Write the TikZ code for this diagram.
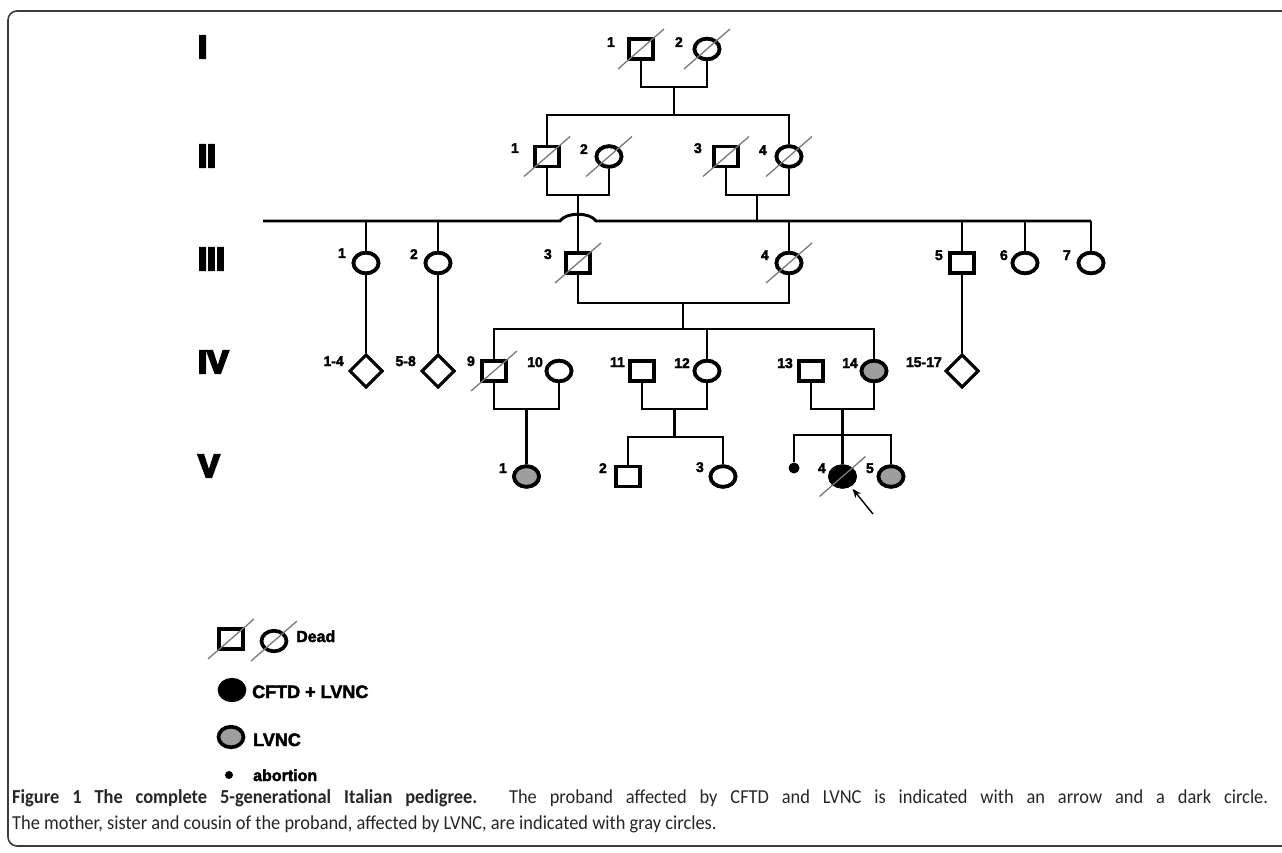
\documentclass[tikz,border=0pt]{standalone}
\usepackage{fontspec}
\setmainfont{Liberation Sans}
\newfontfamily\capfont{Carlito}
\newfontfamily\pedfont[FakeBold=2.5]{Liberation Sans}
\newfontfamily\romfont[FakeBold=7]{Liberation Sans}
\usetikzlibrary{shapes.geometric,arrows.meta,calc}
\definecolor{pedgray}{RGB}{158,158,158}
\definecolor{slashgray}{RGB}{120,120,120}
\definecolor{framegray}{RGB}{60,60,60}
\newcommand{\deadmark}[1]{\draw[deadline] ([shift={(-23,20)}]#1.center) -- ([shift={(23,-20)}]#1.center);}
\tikzset{
  ped/.style={line width=2.9pt, line cap=butt, line join=miter},
  male/.style={draw, rectangle, line width=3.7pt, minimum width=24pt, minimum height=20pt, inner sep=0pt, fill=white},
  female/.style={draw, ellipse, line width=3.7pt, minimum width=25pt, minimum height=20.5pt, inner sep=0pt, fill=white},
  unk/.style={draw, diamond, line width=3pt, minimum width=33pt, minimum height=33pt, inner sep=0pt, fill=white},
  lvnc/.style={female, fill=pedgray},
  cftd/.style={female, fill=black},
  abort/.style={circle, fill=black, minimum size=11pt, inner sep=0pt},
  deadline/.style={slashgray, line width=1.3pt},
  lbl/.style={font=\pedfont\bfseries\fontsize{14}{14}\selectfont, inner sep=0pt, anchor=base east},
  gen/.style={font=\romfont\bfseries\fontsize{32}{32}\selectfont, inner sep=0pt, anchor=base west},
  legt/.style={font=\pedfont\bfseries\fontsize{18}{18}\selectfont, inner sep=0pt, anchor=base west},
  capt/.style={font=\capfont\fontsize{19.8}{24}\selectfont, inner sep=0pt, anchor=base west, text=black!85}
}
\begin{document}
\begin{tikzpicture}[x=1pt,y=-1pt]
\useasboundingbox (0,0) rectangle (1282,853);
% frame
\draw[framegray, line width=1.6pt, rounded corners=9pt] (1290,11) -- (8,11) -- (8,846) -- (1290,846);

% generation numerals
\node[gen] (gI) at (198,58) {I};
\node[gen] (gII) at (198,167) {II};
\node[gen] (gIII) at (198,270) {III};
\node[gen] (gIV) at (198,373) {IV};
\node[gen] (gV) at (198,477) {V};

% generation I
\node[male] (I1) at (641,49) {};
\node[female] (I2) at (707,49) {};
% generation II
\node[male] (II1) at (547,156.5) {};
\node[female] (II2) at (609,156.5) {};
\node[male] (II3) at (726,156.5) {};
\node[female] (II4) at (789,156.5) {};
% generation III
\node[female] (III1) at (366,263) {};
\node[female] (III2) at (438,263) {};
\node[male] (III3) at (578,263) {};
\node[female] (III4) at (789,263) {};
\node[male] (III5) at (962,263) {};
\node[female] (III6) at (1025,263) {};
\node[female] (III7) at (1091,263) {};
% generation IV
\node[unk] (D14) at (366,371) {};
\node[unk] (D58) at (438,371) {};
\node[male] (IV9) at (494,371) {};
\node[female] (IV10) at (559,371) {};
\node[male] (IV11) at (642,371) {};
\node[female] (IV12) at (707,371) {};
\node[male] (IV13) at (811,371) {};
\node[lvnc] (IV14) at (874,371) {};
\node[unk] (D1517) at (962,371) {};
% generation V
\node[lvnc] (V1) at (526.5,476.5) {};
\node[male] (V2) at (628,476.5) {};
\node[female] (V3) at (723,476.5) {};
\node[abort] (AB) at (794,468) {};
\node[cftd] (V4) at (842.5,476.5) {};
\node[lvnc] (V5) at (891,476.5) {};

% connector coordinates
\coordinate (mI) at (674,87);
\coordinate (sII) at (674,115);
\coordinate (mII12) at (578,195);
\coordinate (mII34) at (757,195);
\coordinate (sIIIL) at (263,221);
\coordinate (sIII) at (757,221);
\coordinate (sIIIR) at (1091,221);
\coordinate (hopL) at (560,221);
\coordinate (hopR) at (596,221);
\coordinate (mIII) at (683,303);
\coordinate (sIV) at (683,329);
\coordinate (mIV1) at (526.5,409);
\coordinate (mIV2) at (674.5,409);
\coordinate (sV2) at (674.5,437);
\coordinate (mIV3) at (842.5,409);
\coordinate (sV3) at (842.5,435);
\coordinate (arrT) at (873,514);

\begin{scope}[ped]
% I
\draw (I1.south) |- (mI) -| (I2.south);
\draw (mI) -- (sII);
\draw (II1.north) |- (sII) -| (II4.north);
% II
\draw (II1.south) |- (mII12) -| (II2.south);
\draw (II3.south) |- (mII34) -| (II4.south);
\draw (mII12) -- (III3.north);
\draw (mII34) -- (sIII);
\draw (sIIIL) -- (hopL) .. controls (566,212) and (590,212) .. (hopR) -- (sIIIR);
\foreach \n in {III1,III2,III4,III5,III6,III7} \draw (\n.north) -- (\n.north |- sIII);
% III
\draw (III1.south) -- (D14.north);
\draw (III2.south) -- (D58.north);
\draw (III5.south) -- (D1517.north);
\draw (III3.south) |- (mIII) -| (III4.south);
\draw (mIII) -- (sIV);
\draw (IV9.north) |- (sIV) -| (IV14.north);
\draw (IV12.north) -- (IV12.north |- sIV);
% IV
\draw (IV9.south) |- (mIV1) -| (IV10.south);
\draw (mIV1) -- (V1.north);
\draw (IV11.south) |- (mIV2) -| (IV12.south);
\draw (mIV2) -- (sV2);
\draw (V2.north) |- (sV2) -| (V3.north);
\draw (IV13.south) |- (mIV3) -| (IV14.south);
\draw (mIV3) -- (V4.north);
\draw (AB.north) |- (sV3) -| (V5.north);
\end{scope}

% redraw nodes over connectors
\foreach \n in {I1,II1,II3,III3,III5,IV9,IV11,IV13,V2} \node[male] at (\n) {};
\foreach \n in {I2,II2,II4,III1,III2,III4,III6,III7,IV10,IV12,V3} \node[female] at (\n) {};
\foreach \n in {IV14,V1,V5} \node[lvnc] at (\n) {};
\node[cftd] at (V4) {};
\foreach \n in {D14,D58,D1517} \node[unk] at (\n) {};

% dead marks
\deadmark{I1}\deadmark{I2}
\deadmark{II1}\deadmark{II2}\deadmark{II3}\deadmark{II4}
\deadmark{III3}\deadmark{III4}
\deadmark{IV9}\deadmark{V4}

% proband arrow
\draw[-{Stealth[length=9pt,width=7pt]}, line width=1.4pt, shorten >=3pt] (arrT) -- (V4);

% labels
\node[lbl] (lI1) at (615,47) {1};
\node[lbl] (lI2) at (683,47) {2};
\node[lbl] (lII1) at (519,153) {1};
\node[lbl] (lII2) at (588,154) {2};
\node[lbl] (lII3) at (702,153) {3};
\node[lbl] (lII4) at (767,155) {4};
\node[lbl] (lIII1) at (346,258) {1};
\node[lbl] (lIII2) at (418,259) {2};
\node[lbl] (lIII3) at (552,259) {3};
\node[lbl] (lIII4) at (769,260) {4};
\node[lbl] (lIII5) at (943,260) {5};
\node[lbl] (lIII6) at (1008,260) {6};
\node[lbl] (lIII7) at (1071,260) {7};
\node[lbl] (lD14) at (344,366) {1-4};
\node[lbl] (lD58) at (416,366) {5-8};
\node[lbl] (lIV9) at (475,366) {9};
\node[lbl] (lIV10) at (543,367) {10};
\node[lbl] (lIV11) at (625,367) {11};
\node[lbl] (lIV12) at (690,368) {12};
\node[lbl] (lIV13) at (793,368) {13};
\node[lbl] (lIV14) at (858,368) {14};
\node[lbl] (lD1517) at (942,367) {15-17};
\node[lbl] (lV1) at (507,473) {1};
\node[lbl] (lV2) at (607,473) {2};
\node[lbl] (lV3) at (704,472) {3};
\node[lbl] (lV4) at (826,473) {4};
\node[lbl] (lV5) at (874,473) {5};

% legend
\node[male] (LD1) at (231,639) {};
\node[female] (LD2) at (274,641) {};
\deadmark{LD1}\deadmark{LD2}
\node[legt, font=\pedfont\bfseries\fontsize{16}{16}\selectfont] (tDead) at (296,642) {Dead};
\node[cftd] (LC) at (232,690) {};
\node[legt] (tCF) at (252,698) {CFTD + LVNC};
\node[lvnc] (LG) at (231,737) {};
\node[legt] (tLV) at (253,746) {LVNC};
\node[abort, minimum size=8pt] (LA) at (229,775) {};
\node[legt, font=\pedfont\bfseries\fontsize{16}{16}\selectfont] (tAb) at (253,781) {abortion};

% caption
\node[capt] (cap1) at (12,803) {\scalebox{0.93}[1]{\makebox[1350.5pt][s]{\textbf{Figure 1 The complete 5-generational Italian pedigree.} The proband affected by CFTD and LVNC is indicated with an arrow and a dark circle.}}};
\node[capt] (cap2) at (12,829) {\scalebox{0.93}[1]{The mother, sister and cousin of the proband, affected by LVNC, are indicated with gray circles.}};
\end{tikzpicture}
\end{document}
